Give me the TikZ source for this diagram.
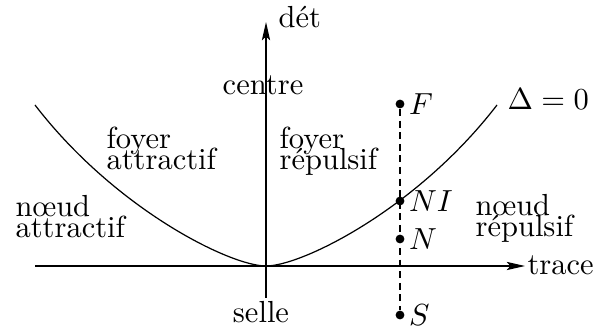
\documentclass[tikz,border=0pt]{standalone}
\usetikzlibrary{arrows.meta}
\begin{document}
\begin{tikzpicture}[x=0.328pt,y=-0.328pt,
  axis/.style={line width=0.45pt,-{Stealth[length=6pt,width=2.7pt,inset=1.2pt]}},
  curve/.style={line width=0.4pt},
  dline/.style={line width=0.4pt,dash pattern=on 2.3pt off 1.5pt},
  dot/.style={circle,fill=black,inner sep=0pt,minimum size=2.9pt},
  lbl/.style={inner sep=0pt},
  txt/.style={inner sep=0pt,anchor=base west,align=left,
    font={\fontsize{10}{7.1}\selectfont\lineskiplimit=-20pt}},
  ptlabel/.style={label={[inner sep=0pt,label distance=1.1pt]right:$#1$}}
]
\useasboundingbox (0,0) rectangle (595,328);
% axes
\coordinate (xl) at (35,266);
\coordinate (xr) at (525,266);
\coordinate (yb) at (266,298);
\coordinate (yt) at (266,22);
\draw[axis] (xl) -- (xr);
\draw[axis] (yb) -- (yt);
\node[lbl,anchor=base west] (trace) at (527,275) {trace};
\node[lbl,anchor=base west] (det) at (278,28) {dét};
\node[lbl,anchor=base] (centre) at (263,95) {centre};
\node[lbl,anchor=base] (selle) at (261,323) {selle};
% curve Delta = 0
\coordinate (cl) at (35,105);
\coordinate (v) at (266,266);
\coordinate (cr) at (497,105);
\draw[curve] (cl) .. controls (115,209) and (230,266) .. (v)
  .. controls (302,266) and (417,209) .. (cr);
\node[lbl,anchor=base west] (delta) at (507,110) {$\Delta = 0$};
% region labels
\node[txt] (fa) at (106,170) {foyer\\attractif};
\node[txt] (fr) at (279,170) {foyer\\répulsif};
\node[txt] (na) at (15,238) {nœud\\attractif};
\node[txt] (nr) at (475,237) {nœud\\répulsif};
% points
\node[dot,ptlabel=F] (F) at (400,104) {};
\node[dot,ptlabel=NI] (NI) at (400,201) {};
\node[dot,ptlabel=N] (N) at (400,239) {};
\node[dot,ptlabel=S] (S) at (400,315) {};
\draw[dline] (F) -- (S);
\end{tikzpicture}
\end{document}
